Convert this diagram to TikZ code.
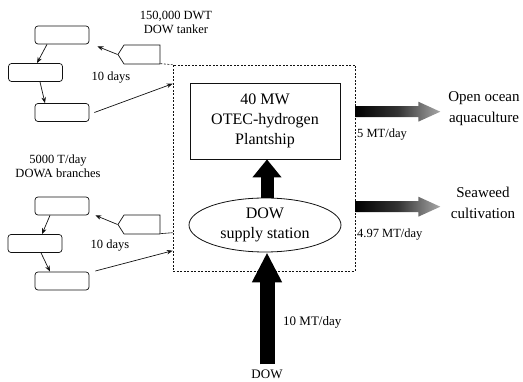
\documentclass[tikz,border=0pt]{standalone}
\usepackage{fontspec}
\setmainfont{Liberation Serif}
\definecolor{inkblack}{HTML}{111111}
\definecolor{flowgray}{HTML}{A8A8A8}
\usetikzlibrary{arrows.meta,positioning,shapes.geometric,shapes.symbols}
\tikzset{
    branchbox/.style={
        draw=inkblack,
        fill=white,
        rounded corners=3pt,
        line width=0.7pt,
        minimum width=54pt,
        minimum height=18pt,
        inner sep=0pt
    },
    tankerbox/.style={
        draw=inkblack,
        signal,
        signal to=west,
        signal pointer angle=115,
        line width=0.7pt,
        minimum width=42pt,
        minimum height=19pt,
        inner sep=0pt
    },
    plantbox/.style={
        draw=inkblack,
        line width=0.8pt,
        minimum width=150pt,
        minimum height=76pt,
        align=center,
        font=\fontsize{16}{20}\selectfont
    },
    stationellipse/.style={
        draw=inkblack,
        ellipse,
        fill=white,
        line width=0.8pt,
        minimum width=152pt,
        minimum height=54pt,
        inner sep=0pt,
        align=center,
        font=\fontsize{16}{20}\selectfont
    },
    zoneframe/.style={
        draw=inkblack,
        dash pattern=on 2pt off 1.5pt,
        line width=0.6pt,
        minimum width=182pt,
        minimum height=206pt
    },
    smalllabel/.style={
        align=center,
        inner sep=1pt,
        font=\fontsize{12.5}{14}\selectfont
    },
    sidelabel/.style={
        align=center,
        inner sep=1pt,
        font=\fontsize{15}{21}\selectfont
    },
    smallarrow/.style={
        -{Stealth[length=6pt,width=4.5pt]},
        draw=inkblack,
        line width=0.7pt
    },
    bigflow/.style={
        draw=black,
        line width=13pt
    },
    flowshade/.style={
        left color=black,
        right color=flowgray,
        middle color=black!80
    },
    tether/.style={
        draw=inkblack,
        line width=0.6pt
    }
}

\begin{document}
\begin{tikzpicture}[x=1pt,y=-1pt]
    \useasboundingbox (0,0) rectangle (523,382);

    % plantship and supply station
    \node[zoneframe] (zone) at (264,168) {};
    \node[plantbox] (plant) at (265,121) {40 MW\\OTEC-hydrogen\\Plantship};
    \node[stationellipse] (supply) at (265,225) {DOW\\supply station};
    \node[smalllabel, font=\fontsize{13}{15}\selectfont] (dow) at (267,374) {DOW};
    \node[smalllabel, anchor=west, font=\fontsize{13}{15}\selectfont] (doseRate) at (282,322) {10 MT/day};

    \draw[bigflow, -{Triangle[length=18pt,width=28pt]}]
        ([xshift=2pt]supply.north) -- ([xshift=2pt]plant.south);
    \draw[bigflow, line width=15pt, shorten <=4pt, -{Triangle[length=30pt,width=28pt]}]
        (dow.north) -- (dow.north |- supply.south);

    % outputs
    \node[sidelabel] (ocean) at (484,109) {Open ocean\\aquaculture};
    \node[sidelabel] (seaweed) at (483,203) {Seaweed\\cultivation};
    \node[smalllabel, anchor=west] (oceanRate) at (356,135) {5 MT/day};
    \node[smalllabel, anchor=west] (seaweedRate) at (356,235) {4.97 MT/day};

    \coordinate (oceanTail) at ([shift={(0,47)}]zone.north east);
    \coordinate (seaweedTail) at ([shift={(0,142)}]zone.north east);
    \shade[flowshade] (oceanTail) ++(0,-5.5) -- ++(63,0) -- ++(0,-4.5)
        -- ++(22,10) -- ++(-22,10) -- ++(0,-4.5) -- ++(-63,0) -- cycle;
    \shade[flowshade] (seaweedTail) ++(0,-5.5) -- ++(63,0) -- ++(0,-4.5)
        -- ++(22,10) -- ++(-22,10) -- ++(0,-4.5) -- ++(-63,0) -- cycle;

    % tanker route
    \node[branchbox] (branchTopA) at (62,35) {};
    \node[branchbox] (branchTopB) at (35.5,72.5) {};
    \node[branchbox] (branchTopC) at (62,112.5) {};
    \node[tankerbox] (tankerTop) at (142,54.5) {};
    \node[smalllabel] (tankerText) at (176,22) {150,000 DWT\\DOW tanker};
    \node[smalllabel] (daysTop) at (111,78) {10 days};

    \draw[smallarrow] ([xshift=-15pt]branchTopA.south) -- ([xshift=1.5pt]branchTopB.north);
    \draw[smallarrow] ([xshift=4.5pt]branchTopB.south) -- ([xshift=-17pt]branchTopC.north);
    \draw[smallarrow] (tankerTop.west) -- ([shift={(8,2)}]branchTopA.south east);
    \draw[smallarrow] ([xshift=5pt]branchTopC.east) -- ([shift={(0,19)}]zone.north west);
    \draw[tether, dash pattern=on 2pt off 1.5pt] (tankerTop.south east) -- (zone.north west);

    % branch route
    \node[branchbox] (branchLowA) at (62,206) {};
    \node[branchbox] (branchLowB) at (35,243.5) {};
    \node[branchbox] (branchLowC) at (62,281) {};
    \node[tankerbox] (tankerLow) at (142,224.5) {};
    \node[smalllabel] (branchText) at (58,166) {5000 T/day\\DOWA branches};
    \node[smalllabel] (daysLow) at (110,246) {10 days};

    \draw[smallarrow] ([xshift=-12pt]branchLowA.south) -- ([xshift=7pt]branchLowB.north);
    \draw[smallarrow] ([xshift=6pt]branchLowB.south) -- ([xshift=-12pt]branchLowC.north);
    \draw[smallarrow] (tankerLow.west) -- ([shift={(6,0)}]branchLowA.south east);
    \draw[smallarrow] ([shift={(6,-10)}]branchLowC.east) -- ([shift={(0,186)}]zone.north west);
    \draw[tether] (tankerLow.south east) -- ([shift={(0,168)}]zone.north west);
\end{tikzpicture}
\end{document}
